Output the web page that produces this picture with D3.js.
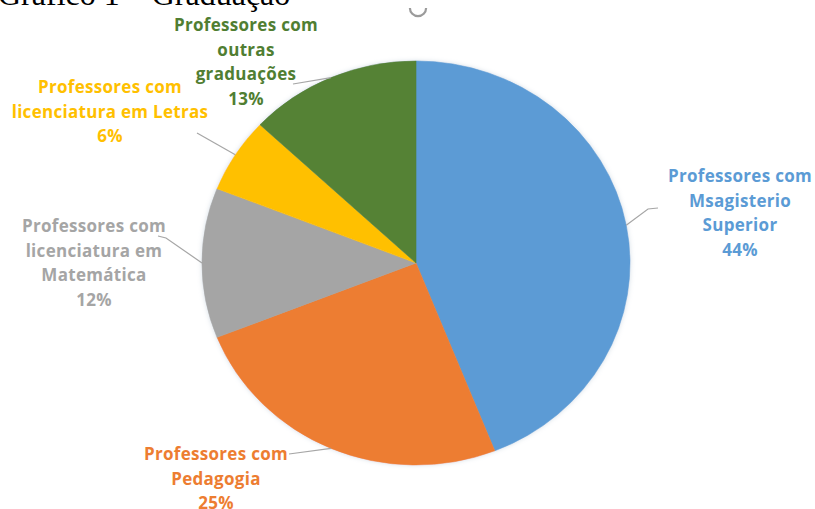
<!DOCTYPE html>
<html>
<head>
<meta charset="utf-8">
<script src="https://cdn.jsdelivr.net/npm/d3@7"></script>
<style>
  html, body { margin: 0; padding: 0; background: #ffffff; }
  svg { display: block; }
</style>
</head>
<body>
<div id="chart"></div>
<script>
// Graduação dos professores — shares per category
const categories = [
  ["Professores com", "Msagisterio", "Superior"],
  ["Professores com", "Pedagogia"],
  ["Professores com", "licenciatura em", "Matemática"],
  ["Professores com", "licenciatura em Letras"],
  ["Professores com", "outras", "graduações"]
];
const values = [44, 25, 12, 6, 13];
const colors = ["#5b9bd5", "#ed7d31", "#a5a5a5", "#ffc000", "#548235"];
const labelColors = ["#5b9bd5", "#ed7d31", "#a5a5a5", "#ffc000", "#507e32"];

// label block placement (centre x, first baseline) and leader start point
const labelLayout = [
  { x: 740, y: 182, lead: [[658, 208], [648, 209]] },
  { x: 216, y: 460, lead: [[289, 454]] },
  { x: 94,  y: 232, lead: [[158, 236], [166, 238]] },
  { x: 110, y: 93,  lead: [[197, 133]] },
  { x: 246, y: 31,  lead: [[293, 84]] }
];

const W = 815, H = 509;
const cx = 416, cy = 263;
const rx = 214, ry = 202;   // pie is drawn slightly flattened
const k = ry / rx;
const lineH = 24.5;

const svg = d3.select("#chart").append("svg")
  .attr("width", W).attr("height", H)
  .attr("viewBox", `0 0 ${W} ${H}`);

const defs = svg.append("defs");
const f = defs.append("filter").attr("id", "soft")
  .attr("x", "-10%").attr("y", "-10%").attr("width", "120%").attr("height", "120%");
f.append("feDropShadow").attr("dx", 0).attr("dy", 0)
  .attr("stdDeviation", 2.5).attr("flood-color", "#9fb4c8").attr("flood-opacity", 0.45);

// figure title (partly cut at the top edge)
svg.append("text")
  .attr("x", -2).attr("y", 5)
  .attr("font-family", "'Liberation Serif', 'Times New Roman', serif")
  .attr("font-size", 32)
  .attr("fill", "#000")
  .text("Gráfico 1 – Graduação");

// small leftover glyph fragment above the pie
svg.append("path")
  .attr("d", d3.arc()({ innerRadius: 7, outerRadius: 9.2, startAngle: Math.PI / 2, endAngle: 3 * Math.PI / 2 }))
  .attr("transform", "translate(418,8)")
  .attr("fill", "#8a8a8a").attr("opacity", 0.85);

const pie = d3.pie().sort(null).value(d => d)(values);
const arc = d3.arc().innerRadius(0).outerRadius(rx);

const g = svg.append("g")
  .attr("transform", `translate(${cx},${cy}) scale(1,${k})`)
  .attr("filter", "url(#soft)");

g.selectAll("path.slice")
  .data(pie)
  .join("path")
  .attr("class", "slice")
  .attr("d", arc)
  .attr("fill", (d, i) => colors[i])
  .attr("stroke", (d, i) => colors[i])
  .attr("stroke-width", 0.6);

// leader lines: from the label to the outer edge at each slice's mid-angle
const edgePoint = d => {
  const a = (d.startAngle + d.endAngle) / 2;
  return [cx + rx * Math.sin(a), cy - rx * Math.cos(a) * k];
};

svg.selectAll("path.leader")
  .data(pie)
  .join("path")
  .attr("class", "leader")
  .attr("d", (d, i) => d3.line()(labelLayout[i].lead.concat([edgePoint(d)])))
  .attr("fill", "none")
  .attr("stroke", "#a6a6a6")
  .attr("stroke-width", 1.2);

// data labels: category lines plus percentage
const labels = svg.selectAll("text.lbl")
  .data(pie)
  .join("text")
  .attr("class", "lbl")
  .attr("text-anchor", "middle")
  .attr("font-family", "'Open Sans', Lato, sans-serif")
  .attr("font-weight", "bold")
  .attr("font-size", 17)
  .attr("letter-spacing", 0.3)
  .attr("fill", (d, i) => labelColors[i]);

labels.each(function (d, i) {
  const lines = categories[i].concat([d3.format(".0f")(d.value) + "%"]);
  d3.select(this).selectAll("tspan")
    .data(lines)
    .join("tspan")
    .attr("x", labelLayout[i].x)
    .attr("y", (t, j) => labelLayout[i].y + j * lineH)
    .text(t => t);
});
</script>
</body>
</html>
